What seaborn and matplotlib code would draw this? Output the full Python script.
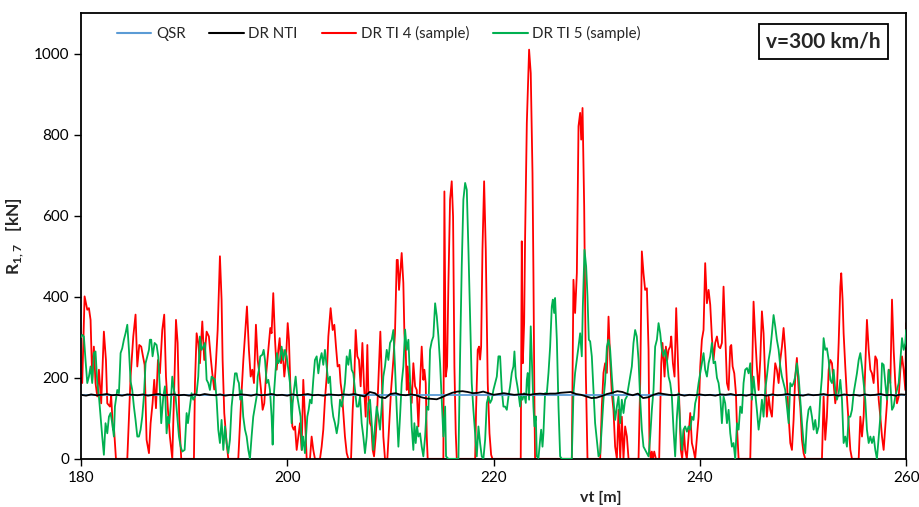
import numpy as np
import pandas as pd
import seaborn as sns
import matplotlib.pyplot as plt
from matplotlib.lines import Line2D

# Data (vt in m, R in kN)
qsr_x = [180.0, 260.0]
qsr_y = [157, 157]

black_x = np.arange(180.0, 260.01, 0.5)
black_y = [158, 156, 159, 157, 158, 160, 157, 158, 156, 159,
           158, 157, 159, 156, 158, 160, 157, 158, 159, 157,
           158, 156, 159, 157, 160, 158, 157, 159, 156, 158,
           157, 159, 158, 156, 159, 157, 158, 160, 157, 158,
           156, 159, 157, 158, 160, 157, 158, 156, 159, 158,
           157, 159, 158, 160, 157, 154, 165, 162, 152, 150,
           160, 162, 158, 157, 159, 157, 152, 149, 148, 147,
           152, 158, 163, 166, 167, 165, 162, 163, 166, 162,
           158, 160, 162, 160, 158, 159, 160, 158, 160, 161,
           160, 161, 161, 163, 164, 165, 160, 158, 154, 150,
           151, 155, 160, 163, 167, 165, 160, 157, 161, 150,
           152, 158, 162, 160, 158, 157, 159, 156, 158, 157,
           159, 157, 158, 156, 159, 158, 160, 157, 158, 156,
           159, 157, 158, 156, 159, 157, 158, 160, 157, 158,
           156, 159, 157, 158, 160, 157, 158, 156, 159, 157,
           158, 156, 159, 157, 158, 160, 157, 158, 156, 159,
           158]

red_x = [180.0, 180.13, 180.36, 180.62, 180.78, 180.94, 181.10, 181.26, 181.42, 181.59,
         181.75, 181.97, 182.23, 182.43, 182.56, 182.82, 182.94, 183.11, 183.2, 183.4,
         184.5, 184.82, 185.08, 185.3, 185.47, 185.66, 185.85, 186.02, 186.18, 186.37,
         186.6, 186.76, 186.95, 187.11, 187.28, 187.47, 187.66, 187.89, 188.08, 188.25,
         188.44, 188.63, 188.86, 189.02, 189.22, 189.38, 189.54, 189.73,
         190.96, 191.06, 191.22, 191.38, 191.54, 191.77, 191.96, 192.19, 192.41, 192.61,
         192.74, 192.93, 193.09, 193.26, 193.48, 193.64, 193.74, 193.9, 194.13, 194.29,
         195.26, 195.52, 195.75, 196.1, 196.29, 196.46, 196.62, 196.78, 196.97, 197.14,
         197.3, 197.46, 197.62, 197.78, 197.94, 198.17, 198.36, 198.49, 198.65, 198.82,
         198.98, 199.14, 199.27, 199.4, 199.56, 199.72, 199.88, 200.05, 200.17, 200.3,
         200.5, 200.63,
         200.76, 200.92, 201.08, 201.24, 201.4, 201.56, 201.72, 201.89, 202.21, 202.37,
         202.53, 202.69, 203.18, 203.34, 203.5, 203.66, 203.83, 203.99, 204.21, 204.41,
         204.57, 204.73, 204.89, 205.06, 205.18, 205.31, 205.44, 205.6, 205.77, 205.93,
         206.19, 206.35, 206.51, 206.64, 206.8, 206.96, 207.12, 207.29, 207.45, 207.61,
         207.77, 207.9, 208.03, 208.16, 208.29, 208.42, 208.58, 208.74, 208.9, 209.03,
         209.19, 209.32, 209.48, 209.71, 209.9, 210.07, 210.29, 210.45, 210.62,
         210.72, 210.84, 211.1, 211.26, 211.36, 211.49, 211.59, 211.68, 211.81, 211.91,
         212.07, 212.23, 212.4, 212.56, 212.72, 212.88, 213.04, 213.2, 213.3, 213.43,
         213.53, 213.62, 215.14, 215.24, 215.37, 215.5, 215.63, 215.79, 215.95, 216.08,
         216.21, 216.34, 216.44, 218.22, 218.31, 218.47, 218.6, 218.7, 218.8, 218.93,
         219.09, 219.25, 219.44, 219.61, 219.77, 219.9,
         222.64, 222.74, 222.84, 222.97, 223.06, 223.23, 223.45, 223.61, 223.78, 223.87,
         223.97, 224.03, 227.59, 227.75, 227.91, 228.08, 228.24, 228.4, 228.5, 228.63,
         228.79, 228.95, 229.11, 230.34, 230.5, 230.66, 230.82, 230.99, 231.15,
         231.31, 231.47, 231.63, 231.79, 231.96, 232.12, 232.28, 232.44, 232.6, 232.76,
         232.93, 233.09, 234.06, 234.22, 234.38, 234.54, 234.7, 234.87, 235.03, 235.12,
         235.25, 235.35, 235.45, 235.58, 235.74, 236.06, 236.26, 236.38, 236.58, 236.71,
         236.84, 236.97, 237.13, 237.23, 237.39, 237.55, 237.71, 237.84, 238.0, 238.16,
         238.29, 238.45, 238.58, 238.74, 238.91, 239.07, 239.23, 239.39, 239.55, 239.88,
         240.04, 240.2, 240.36, 240.52, 240.69, 240.85, 241.01,
         241.17, 241.33, 241.49, 241.66, 241.82, 241.98, 242.14, 242.3, 242.46, 242.63,
         242.79, 242.95, 243.05, 243.18, 243.34, 243.5, 243.6, 243.76, 244.89, 245.05,
         245.21, 245.37, 245.53, 245.7, 245.86, 246.02, 246.18, 246.34, 246.5, 246.67,
         246.83, 246.99, 247.15, 247.31, 247.47, 247.64, 247.8, 247.96, 248.12, 248.28,
         248.45, 248.61, 248.77, 248.93, 249.09, 249.25, 249.41, 249.58, 249.74, 249.9,
         250.06, 250.22,
         251.84, 252.0, 252.16, 252.32, 252.49, 252.65, 252.81, 252.97, 253.13, 253.29,
         253.46, 253.62, 253.71, 253.84, 253.94, 254.1, 254.26, 254.43, 254.59, 254.75,
         255.4, 255.56, 255.72, 255.88, 256.04, 256.2, 256.37, 256.53, 256.69, 256.85,
         257.01, 257.17, 257.34, 257.5, 257.66, 257.82, 257.98, 258.14, 258.31, 258.47,
         258.63, 258.79, 258.95, 259.11, 259.28, 259.44, 259.6, 259.76, 259.92, 260.0]
red_y = [200, 187, 401, 368, 372, 343, 195, 277, 187, 154,
         220, 137, 314, 244, 137, 129, 154, 72, 80, 0,
         0, 203, 302, 356, 228, 281, 277, 253, 232, 47,
         14, 88, 137, 195, 125, 244, 211, 318, 356, 203,
         121, 55, 0, 146, 343, 286, 96, 0,
         0, 187, 310, 286, 236, 339, 244, 314, 302, 244,
         211, 171, 236, 318, 500, 393, 244, 113, 39, 0,
         0, 137, 244, 376, 269, 203, 220, 187, 331, 244,
         211, 171, 121, 137, 203, 269, 323, 310, 409, 294,
         220, 269, 298, 236, 269, 203, 244, 335, 294, 187,
         80, 72,
         80, 22, 55, 88, 22, 195, 104, 0, 0, 55,
         22, 0, 0, 30, 72, 146, 203, 302, 372, 318,
         331, 277, 228, 232, 187, 162, 113, 55, 14, 0,
         0, 121, 203, 318, 253, 244, 179, 286, 179, 104,
         281, 129, 88, 80, 22, 6, 55, 129, 228, 314,
         187, 55, 0, 0, 88, 170, 244, 310, 491,
         491, 417, 508, 434, 310, 269, 170, 228, 162, 187,
         138, 236, 179, 170, 80, 187, 277, 195, 220, 187,
         55, 0, 0, 660, 203, 228, 434, 640, 685, 598,
         228, 63, 0, 0, 121, 269, 277, 245, 277, 516,
         685, 516, 187, 63, 10, 0,
         0, 537, 236, 335, 541, 829, 1010, 952, 705, 459,
         129, 0, 0, 442, 360, 459, 821, 854, 788, 866,
         623, 212, 0, 0, 129, 212, 236, 212, 351,
         244, 162, 121, 30, 0, 121, 0, 104, 0, 80,
         55, 0, 0, 187, 512, 458, 417, 421, 269, 22,
         0, 18, 0, 18, 0, 0, 236, 286, 203, 277,
         244, 269, 277, 302, 236, 203, 372, 269, 137, 22,
         0, 72, 22, 0, 55, 113, 39, 22, 0, 104,
         228, 294, 318, 483, 384, 417, 380,
         300, 244, 286, 302, 277, 273, 286, 425, 310, 187,
         170, 277, 281, 228, 211, 162, 80, 0, 0, 187,
         388, 302, 228, 170, 244, 364, 310, 195, 104, 154,
         121, 104, 179, 236, 220, 187, 244, 277, 323, 269,
         187, 104, 39, 22, 96, 203, 249, 170, 129, 47,
         14, 0,
         0, 154, 47, 104, 220, 244, 236, 187, 137, 170,
         286, 425, 458, 393, 310, 228, 154, 88, 22, 0,
         0, 104, 55, 104, 228, 343, 269, 220, 211, 187,
         253, 244, 146, 104, 55, 22, 80, 137, 220, 187,
         393, 269, 187, 137, 154, 220, 253, 220, 170, 335]

green_x = [180.0, 180.13, 180.29, 180.45, 180.62, 180.78, 180.94, 181.10, 181.26, 181.42,
           181.59, 181.75, 181.91, 182.07, 182.23, 182.39, 182.56, 182.72, 182.88, 183.04,
           183.2, 183.3, 183.53, 183.69, 183.85, 184.01, 184.17, 184.33, 184.5, 184.66,
           184.82, 184.98, 185.14, 185.3, 185.47, 185.63, 185.79, 185.95, 186.11, 186.27,
           186.44, 186.6, 186.69, 186.82, 186.95, 187.15, 187.34, 187.5, 187.66, 187.79,
           187.99, 188.15, 188.31, 188.44, 188.57, 188.7, 188.86, 189.02, 189.18, 189.35,
           189.51, 189.67, 189.83, 190.06, 190.25, 190.38, 190.57,
           190.73, 190.89, 191.06, 191.22, 191.38, 191.54, 191.7, 191.87, 192.03, 192.19,
           192.35, 192.51, 192.67, 192.84, 193.0, 193.16, 193.32, 193.48, 193.64, 193.81,
           193.97, 194.13, 194.29, 194.45, 194.61, 194.78, 194.94, 195.1, 195.2, 195.32,
           195.45, 195.58, 195.74, 195.91, 196.07, 196.23, 196.39, 196.55, 196.71, 196.88,
           197.04, 197.14, 197.26, 197.39, 197.59, 197.72, 197.85, 198.01, 198.17, 198.33,
           198.49, 198.59, 198.72, 198.88, 199.01, 199.14, 199.3, 199.46, 199.62, 199.79,
           199.95, 200.11, 200.27, 200.43, 200.53, 200.66, 200.82,
           200.98, 201.14, 201.3, 201.43, 201.56, 201.72, 201.82, 201.95, 202.08, 202.21,
           202.37, 202.53, 202.69, 202.86, 203.02, 203.18, 203.34, 203.5, 203.66, 203.83,
           203.99, 204.15, 204.31, 204.47, 204.63, 204.8, 204.96, 205.12, 205.28, 205.44,
           205.6, 205.77, 205.93, 206.09, 206.25, 206.41, 206.57, 206.74, 206.9, 207.06,
           207.22, 207.38, 207.54, 207.71, 207.87, 208.03, 208.19, 208.35, 208.51, 208.68,
           208.84, 209.0, 209.16, 209.32, 209.48, 209.65, 209.81, 209.97, 210.13, 210.29,
           210.45,
           210.62, 210.78, 210.94, 211.1, 211.26, 211.43, 211.59, 211.75, 211.91, 212.07,
           212.23, 212.33, 212.46, 212.59, 212.72, 212.88, 213.04, 213.2, 213.37, 213.53,
           213.69, 213.85, 214.01, 214.17, 214.34, 214.5, 214.66, 214.82, 214.98, 215.14,
           215.31, 215.4, 215.63, 216.6, 216.76, 216.92, 217.08, 217.25, 217.41, 217.57,
           217.73, 217.89, 218.05, 218.22, 218.38, 218.54, 218.7, 218.86, 219.02, 219.19,
           219.35, 219.51, 219.67, 219.83, 219.99, 220.16, 220.32, 220.48,
           220.64, 220.8, 220.96, 221.12, 221.29, 221.45, 221.61, 221.77, 221.93, 222.03,
           222.16, 222.32, 222.42, 222.58, 222.68, 222.81, 222.97, 223.13, 223.23, 223.32,
           223.45, 223.61, 223.74, 223.87, 223.97, 224.1, 224.2, 224.36, 224.52, 224.62,
           224.75, 224.84, 225.0, 225.17, 225.33, 225.49, 225.65, 225.75, 225.88, 225.97,
           226.14, 226.3, 226.46, 226.62, 227.59, 227.75, 227.91, 228.08, 228.24, 228.4,
           228.56, 228.66, 228.82, 228.98, 229.11, 229.24, 229.37, 229.53, 229.69, 229.85,
           230.02, 230.18, 230.34, 230.5, 230.66, 230.82,
           230.99, 231.15, 231.31, 231.47, 231.63, 231.79, 231.96, 232.12, 232.28, 232.44,
           232.6, 232.76, 232.93, 233.09, 233.25, 233.41, 233.57, 233.73, 233.89, 234.06,
           234.22, 234.38, 234.54, 234.7, 234.87, 235.03, 235.19, 235.35, 235.51, 235.67,
           235.84, 236.0, 236.16, 236.32, 236.48, 236.64, 236.81, 236.97, 237.13, 237.29,
           237.45, 237.61, 237.78, 237.94, 238.1, 238.26, 238.42, 238.58, 238.75, 238.91,
           239.07, 239.23, 239.39, 239.55, 239.71, 239.88, 240.04, 240.2, 240.36, 240.52,
           240.69, 240.85, 241.01, 241.17, 241.33, 241.49,
           241.66, 241.82, 241.98, 242.14, 242.3, 242.46, 242.63, 242.79, 242.95, 243.11,
           243.27, 243.43, 243.6, 243.76, 243.92, 244.08, 244.24, 244.4, 244.57, 244.73,
           244.89, 245.05, 245.21, 245.37, 245.53, 245.7, 245.86, 246.02, 246.18, 246.34,
           246.5, 246.67, 246.83, 246.99, 247.15, 247.31, 247.47, 247.64, 247.8, 247.96,
           248.12, 248.28, 248.45, 248.61, 248.77, 248.93, 249.09, 249.25, 249.41, 249.58,
           249.74, 249.9, 250.06, 250.22, 250.38, 250.54,
           250.71, 250.87, 251.03, 251.19, 251.35, 251.52, 251.68, 251.84, 252.0, 252.16,
           252.32, 252.49, 252.65, 252.81, 252.97, 253.13, 253.29, 253.46, 253.62, 253.78,
           253.94, 254.1, 254.26, 254.43, 254.59, 254.75, 254.91, 255.07, 255.23, 255.4,
           255.56, 255.72, 255.88, 256.04, 256.2, 256.37, 256.53, 256.69, 256.85, 257.01,
           257.17, 257.34, 257.5, 257.66, 257.82, 257.98, 258.14, 258.31, 258.47, 258.63,
           258.79, 258.95, 259.11, 259.28, 259.44, 259.6, 259.76, 259.92, 260.0]
green_y = [300, 306, 302, 244, 187, 203, 228, 187, 261, 265,
           187, 154, 104, 55, 10, 88, 63, 104, 113, 88,
           55, 129, 170, 162, 261, 273, 294, 310, 331, 269,
           191, 170, 129, 96, 55, 55, 72, 104, 154, 236,
           253, 269, 294, 294, 253, 286, 281, 253, 170, 88,
           154, 179, 63, 104, 88, 129, 203, 170, 154, 104,
           55, 30, 18, 22, 113, 88, 129,
           162, 146, 154, 162, 203, 302, 269, 277, 286, 195,
           187, 170, 203, 199, 195, 146, 72, 39, 96, 22,
           80, 39, 14, 47, 129, 170, 211, 211, 195, 187,
           146, 170, 104, 72, 55, 22, 0, 55, 104, 129,
           154, 203, 220, 253, 257, 269, 244, 187, 195, 170,
           104, 35, 162, 220, 261, 236, 244, 277, 244, 269,
           253, 220, 187, 88, 137, 170, 203,
           154, 129, 104, 22, 55, 14, 55, 104, 121, 146,
           137, 195, 244, 253, 211, 244, 261, 232, 269, 228,
           187, 203, 137, 104, 88, 63, 88, 146, 129, 154,
           187, 253, 232, 269, 220, 211, 170, 129, 129, 154,
           88, 55, 14, 55, 137, 146, 88, 22, 80, 129,
           104, 72, 129, 203, 228, 269, 244, 286, 294, 318,
           228,
           121, 30, 105, 187, 228, 319, 269, 294, 195, 80,
           22, 88, 39, 80, 55, 63, 30, 6, 55, 129,
           121, 269, 290, 302, 384, 352, 302, 236, 146, 55,
           129, 6, 0, 0, 253, 475, 640, 681, 664, 516,
           352, 187, 121, 63, 6, 80, 39, 6, 0, 47,
           138, 154, 138, 146, 170, 187, 203, 253,
           253, 171, 129, 129, 121, 154, 179, 212, 228, 265,
           203, 179, 162, 129, 154, 146, 162, 138, 195, 212,
           146, 327, 228, 129, 80, 105, 6, 2, 47, 72,
           30, 63, 162, 162, 212, 277, 376, 393, 360, 397,
           294, 129, 6, 0, 0, 162, 212, 245, 277, 310,
           253, 376, 516, 475, 401, 294, 290, 253, 171, 88,
           47, 6, 14, 80, 146, 190,
           277, 294, 269, 203, 146, 96, 129, 154, 88, 146,
           113, 146, 154, 179, 203, 228, 286, 318, 302, 244,
           146, 72, 30, 22, 14, 6, 55, 121, 170, 277,
           294, 335, 310, 269, 253, 269, 244, 203, 187, 154,
           72, 6, 104, 162, 80, 22, 72, 80, 67, 80,
           72, 104, 96, 137, 154, 187, 211, 236, 261, 220,
           203, 236, 253, 286, 236, 240,
           200, 187, 154, 88, 154, 137, 88, 121, 63, 30,
           39, 0, 88, 72, 129, 113, 187, 220, 224, 211,
           236, 146, 203, 162, 121, 72, 104, 146, 104, 170,
           203, 244, 269, 310, 355, 327, 294, 269, 228, 203,
           187, 170, 129, 88, 187, 179, 187, 203, 236, 203,
           146, 88, 39, 14, 88, 121,
           129, 104, 72, 96, 63, 80, 154, 203, 298, 269,
           273, 244, 195, 187, 220, 170, 146, 162, 195, 146,
           39, 55, 30, 104, 104, 121, 162, 187, 211, 244,
           261, 228, 187, 146, 72, 39, 55, 39, 55, 22,
           0, 55, 104, 236, 232, 187, 146, 220, 187, 121,
           129, 154, 170, 187, 244, 298, 269, 286, 318]

labels = ["QSR", "DR NTI", "DR TI 4 (sample)", "DR TI 5 (sample)"]
colours = ["#5b9bd5", "black", "#ff0000", "#00b050"]

sns.set_style("white")
plt.rcParams['font.family'] = ['Lato', 'DejaVu Sans']
plt.rcParams['mathtext.fontset'] = 'custom'
plt.rcParams['mathtext.rm'] = 'Lato'
plt.rcParams['mathtext.bf'] = 'Lato:bold'

fig = plt.figure(figsize=(9.19, 5.07), dpi=100)
ax = fig.add_axes([0.088, 0.095, 0.898, 0.879])

series = [(qsr_x, qsr_y), (black_x, black_y), (red_x, red_y), (green_x, green_y)]
zorders = [4, 5, 2, 3]
for (xs, ys), lab, col, z in zip(series, labels, colours, zorders):
    df = pd.DataFrame({'vt': xs, 'R': ys})
    sns.lineplot(data=df, x='vt', y='R', color=col, lw=1.3, ax=ax,
                 estimator=None, sort=False, zorder=z, legend=False)

ax.set_xlim(180, 260)
ax.set_ylim(0, 1100)
ax.set_xticks([180, 200, 220, 240, 260])
ax.set_yticks([0, 200, 400, 600, 800, 1000])
ax.tick_params(axis='both', direction='out', length=5, width=1, labelsize=11,
               bottom=True, left=True, colors='black')
for s in ax.spines.values():
    s.set_color('black')
    s.set_linewidth(1.3)

ax.set_xlabel("vt [m]", fontweight='bold', fontsize=11.5)
ax.xaxis.set_label_coords(0.63, -0.072)
ax.set_ylabel(r"R$_{\mathbf{1,7}}$   [kN]", fontweight='bold', fontsize=12.5)
ax.yaxis.set_label_coords(-0.066, 0.5)

handles = [Line2D([], [], color=c, lw=1.5) for c in colours]
ax.legend(handles, labels, ncol=4, frameon=False, fontsize=10.8,
          loc='center', bbox_to_anchor=(0.361, 0.955), handlelength=2.3,
          columnspacing=1.6, handletextpad=0.3)

ax.text(0.9, 0.937, "v=300 km/h", transform=ax.transAxes, ha='center', va='center',
        fontsize=15, fontweight='bold',
        bbox=dict(boxstyle='square,pad=0.35', fc='white', ec='black', lw=1.3))

fig.savefig("out.png", dpi=100)
